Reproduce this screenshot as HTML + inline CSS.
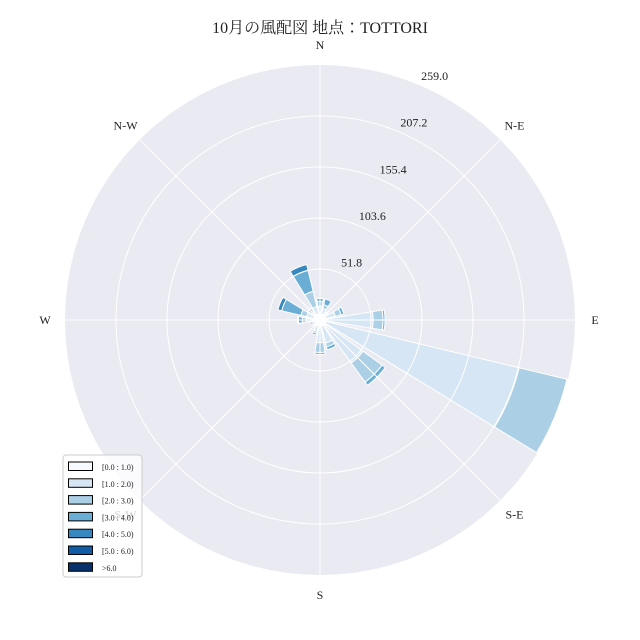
<!DOCTYPE html>
<html><head><meta charset="utf-8"><style>
body{margin:0;background:#fff}
svg{display:block;font-family:"Liberation Serif","Noto Serif CJK JP",serif}
</style></head><body>
<svg id="c" width="640" height="640">
<text x="320" y="33" text-anchor="middle" font-size="16" fill="#222">10月の風配図 地点：TOTTORI</text>
</svg>
<script>
const directions=["N","NNE","NE","ENE","E","ESE","SE","SSE","S","SSW","SW","WSW","W","WNW","NW","NNW"];
const binLabels=["[0.0 : 1.0)","[1.0 : 2.0)","[2.0 : 3.0)","[3.0 : 4.0)","[4.0 : 5.0)","[5.0 : 6.0)",">6.0"];
const bin0=[6,6,5,6,6,6,6,6,6,6,5,5,6,6,6,6];
const bin1=[8,6,3,10,48,202,48,18,17,6,3,3,8,8,5,8];
const bin2=[5,4,2,6,10,50,24,4,10,2,0,0,4,6,4,16];
const bin3=[3,6,0,3,2,1,4,3,2,2,0,2,4,20,0,22];
const bin4=[0,0,0,0,0,0,0,0,0,0,0,0,1,4,0,6];
const bin5=[0,0,0,0,0,0,0,0,0,0,0,0,0,0,0,0];
const bin6=[0,0,0,0,0,0,0,0,0,0,0,0,0,0,0,0];
const ringTicks=[51.8,103.6,155.4,207.2,259.0];
const rMax=259.0;
const compass=[["N",0],["N-E",45],["E",90],["S-E",135],["S",180],["S-W",225],["W",270],["N-W",315]];
const colors=["#f7fbff","#d6e6f4","#abd0e6","#6aaed6","#3787c0","#105ba4","#08306b"];
const bins=[bin0,bin1,bin2,bin3,bin4,bin5,bin6];
const svg=document.getElementById('c');
const NS="http://www.w3.org/2000/svg";
const cx=320,cy=320,R=255;
const rs=v=>v/rMax*R;
function pt(r,deg){const a=deg*Math.PI/180;return [cx+r*Math.sin(a),cy-r*Math.cos(a)];}
function mk(t,at){const e=document.createElementNS(NS,t);for(const k in at)e.setAttribute(k,at[k]);svg.appendChild(e);return e;}
let bg=mk('circle',{cx,cy,r:R,fill:'#eaeaf2'});


const w=18;
directions.forEach((d,i)=>{
  const th=i*22.5;let cum=0;
  bins.forEach((b,j)=>{
    const v=b[i];if(!v)return;
    const r0=rs(cum),r1=rs(cum+v);cum+=v;
    const a0=th-w/2,a1=th+w/2;
    const p1=pt(r0,a0),p2=pt(r1,a0),p3=pt(r1,a1),p4=pt(r0,a1);
    const dd=`M${p1}L${p2}A${r1},${r1} 0 0 1 ${p3}L${p4}A${r0},${r0} 0 0 0 ${p1}Z`;
    const e=mk('path',{d:dd,fill:colors[j],stroke:'#fff','stroke-width':1});
    
    
  });
});
ringTicks.forEach((t,i)=>{
  if(i<ringTicks.length-1){const c=mk('circle',{cx,cy,r:rs(t),fill:'none',stroke:'#fff','stroke-width':1});
  
  }
  const p=pt(rs(t)+12,24);
  const tx=mk('text',{x:p[0]+6,y:p[1]+4,'font-size':12,fill:'#222','text-anchor':'middle'});
  tx.textContent=t.toFixed(1);
  
  
});
compass.forEach(([l,a])=>{
  const p=pt(R,a);
  const ln=mk('line',{x1:cx,y1:cy,x2:p[0],y2:p[1],stroke:'#fff','stroke-width':1});
  
  
  const q=pt(R+20,a);
  const tx=mk('text',{x:q[0],y:q[1]+4,'font-size':12,fill:'#222','text-anchor':'middle'});
  tx.textContent=l;
  
  
});
const lg=mk('rect',{x:63,y:455,width:79,height:122,rx:3,fill:'rgba(255,255,255,0.8)',stroke:'#ccc'});


binLabels.forEach((l,j)=>{
  const y=462+j*16.8;
  const s=mk('rect',{x:68.5,y:y,width:24,height:8.5,fill:colors[j],stroke:'#000','stroke-width':1});
  
  
  const t=mk('text',{x:102,y:y+8,'font-size':8,fill:'#222'});
  t.textContent=l;
  
  
});
</script>
</body></html>
